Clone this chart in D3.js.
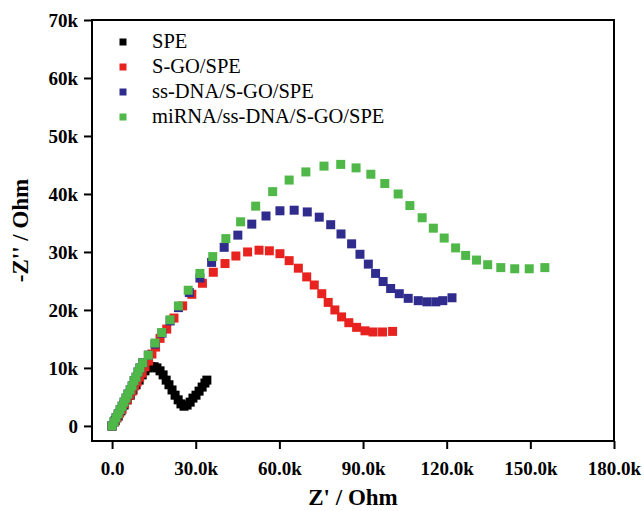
<!DOCTYPE html>
<html><head><meta charset="utf-8">
<script src="https://cdn.jsdelivr.net/npm/d3@7"></script>
<style>
body{margin:0;background:#fff;}
svg{display:block;}
text{font-family:"Liberation Serif","Times New Roman",serif;}
</style></head>
<body><svg id="c" width="644" height="511"></svg>
<script>
// Data (Z' in kOhm, -Z'' in kOhm)
const seriesNames = ["SPE", "S-GO/SPE", "ss-DNA/S-GO/SPE", "miRNA/ss-DNA/S-GO/SPE"];
const seriesColors = ["#000000", "#e8231f", "#302c8e", "#4fb848"];

const speX = [0,1.1,2.2,3.2,4.3,5.4,6.5,7.5,8.6,9.7,10.8,11.8,12.9,14.0,15.1,16.1,17.2,18.3,19.4,20.4,21.5,22.6,23.7,24.7,25.8,26.9,28.0,29.0,30.1,31.2,32.3,33.3,34.0];
const speY = [0,0.9,1.7,2.6,3.6,4.5,5.3,6.2,7.1,7.9,8.8,9.5,10.0,10.2,10.2,10.0,9.5,8.8,7.9,7.1,6.2,5.3,4.5,3.8,3.4,3.6,4.1,4.8,5.3,6.0,6.7,7.4,7.9];

const sgoX = [0,0.9,1.8,2.7,3.6,4.5,5.4,6.3,7.2,8.1,9.0,9.9,10.8,11.8,13.1,14.3,15.6,17.2,19.6,22.2,25.3,28.6,32.4,36.3,40.5,44.4,48.6,52.7,56.4,60.2,63.5,66.8,69.8,72.5,75.2,77.5,79.9,82.3,84.9,87.7,90.7,93.6,97.0,100.6];
const sgoY = [0,0.7,1.4,2.2,2.9,3.8,4.5,5.3,6.0,6.9,7.6,8.4,9.1,10.2,11.2,12.4,13.6,15.1,16.7,18.6,20.7,22.7,24.6,26.5,28.0,29.3,30.0,30.3,30.2,29.7,28.5,27.2,25.7,24.3,22.8,21.3,20.0,18.8,17.8,17.0,16.4,16.2,16.2,16.3];

const dnaX = [0,0.7,1.4,2.2,2.9,3.6,4.3,5.0,5.7,6.5,7.2,7.9,8.6,9.3,10.0,11.0,13.0,15.4,17.9,20.8,23.8,27.7,31.5,35.7,40.2,45.1,50.1,55.2,60.2,65.3,70.0,74.3,78.4,82.1,85.9,88.9,91.9,94.5,97.2,99.9,103.0,106.2,109.8,112.9,116.1,118.6,121.9];
const dnaY = [0,0.7,1.4,2.1,2.8,3.4,4.1,4.8,5.5,6.2,6.9,7.8,8.4,9.3,10.0,10.9,12.2,14.1,16.0,18.1,20.4,23.0,25.5,28.2,30.8,32.9,34.8,36.2,37.1,37.2,36.9,36.0,34.7,33.1,31.4,29.6,27.9,26.3,24.9,23.7,22.8,22.0,21.6,21.4,21.4,21.6,22.1];

const mirX = [0,0.7,1.4,2.2,2.9,3.6,4.3,5.0,5.7,6.5,7.2,7.9,8.6,9.3,10.0,11.0,13.0,15.4,17.8,20.8,23.8,27.3,31.5,36.1,40.8,46.1,51.5,57.6,63.5,69.5,76.0,82.0,87.5,92.8,97.8,102.6,106.8,111.2,115.2,119.1,123.2,126.8,130.7,134.7,139.4,144.4,149.6,155.2];
const mirY = [0,0.7,1.4,2.1,2.8,3.4,4.1,4.8,5.5,6.2,6.9,7.8,8.4,9.3,10.0,10.9,12.2,14.3,16.1,18.3,20.7,23.4,26.3,29.2,32.3,35.2,37.9,40.4,42.4,43.8,44.8,45.1,44.5,43.4,41.8,40.0,38.0,35.9,34.1,32.4,30.7,29.4,28.6,27.8,27.3,27.1,27.1,27.3];

const xTicks = [0,30,60,90,120,150,180];
const xTickLabels = ["0.0","30.0k","60.0k","90.0k","120.0k","150.0k","180.0k"];
const yTicks = [0,10,20,30,40,50,60,70];
const yTickLabels = ["0","10k","20k","30k","40k","50k","60k","70k"];

const series = [
  {name: seriesNames[0], color: seriesColors[0], x: speX, y: speY},
  {name: seriesNames[1], color: seriesColors[1], x: sgoX, y: sgoY},
  {name: seriesNames[2], color: seriesColors[2], x: dnaX, y: dnaY},
  {name: seriesNames[3], color: seriesColors[3], x: mirX, y: mirY}
];

const L = 92, R = 614, T = 20, B = 441;
const x = d3.scaleLinear().domain([-7.2, 180]).range([L, R]);
const y = d3.scaleLinear().domain([-2.6, 70]).range([B, T]);

const svg = d3.select("#c");

// frame
svg.append("rect").attr("x", L).attr("y", T).attr("width", R - L).attr("height", B - T)
  .attr("fill", "none").attr("stroke", "#000").attr("stroke-width", 2);

// data
const ms = 9;
series.forEach(s => {
  const pts = s.x.map((v, i) => [v, s.y[i]]);
  svg.append("g").selectAll("rect").data(pts).join("rect")
    .attr("x", d => x(d[0]) - ms / 2).attr("y", d => y(d[1]) - ms / 2)
    .attr("width", ms).attr("height", ms).attr("fill", s.color);
});

// axes
const xa = svg.append("g").attr("transform", `translate(0,${B})`)
  .call(d3.axisBottom(x).tickValues(xTicks).tickFormat((d, i) => xTickLabels[i]).tickSize(8).tickPadding(13));
const ya = svg.append("g").attr("transform", `translate(${L},0)`)
  .call(d3.axisLeft(y).tickValues(yTicks).tickFormat((d, i) => yTickLabels[i]).tickSize(8).tickPadding(6));
[xa, ya].forEach(a => {
  a.select(".domain").remove();
  a.selectAll(".tick line").attr("stroke", "#000").attr("stroke-width", 2);
  a.selectAll(".tick text").attr("fill", "#000").style("font-family", "'Liberation Serif','Times New Roman',serif")
    .style("font-weight", "bold").style("font-size", "19px");
});

// axis titles
svg.append("text").attr("x", (L + R) / 2).attr("y", 505).attr("text-anchor", "middle")
  .style("font-weight", "bold").style("font-size", "23px").text("Z' / Ohm");
svg.append("text").attr("transform", `translate(28,${(T + B) / 2}) rotate(-90)`).attr("text-anchor", "middle")
  .style("font-weight", "bold").style("font-size", "23px").text("-Z'' / Ohm");

// legend
const lg = svg.append("g");
series.forEach((s, i) => {
  const cy = 42 + i * 25;
  lg.append("rect").attr("x", 123 - 3.5).attr("y", cy - 3.5).attr("width", 7).attr("height", 7).attr("fill", s.color);
  lg.append("text").attr("x", 152).attr("y", cy + 6).style("font-size", "20.5px").text(s.name);
});
</script></body></html>
